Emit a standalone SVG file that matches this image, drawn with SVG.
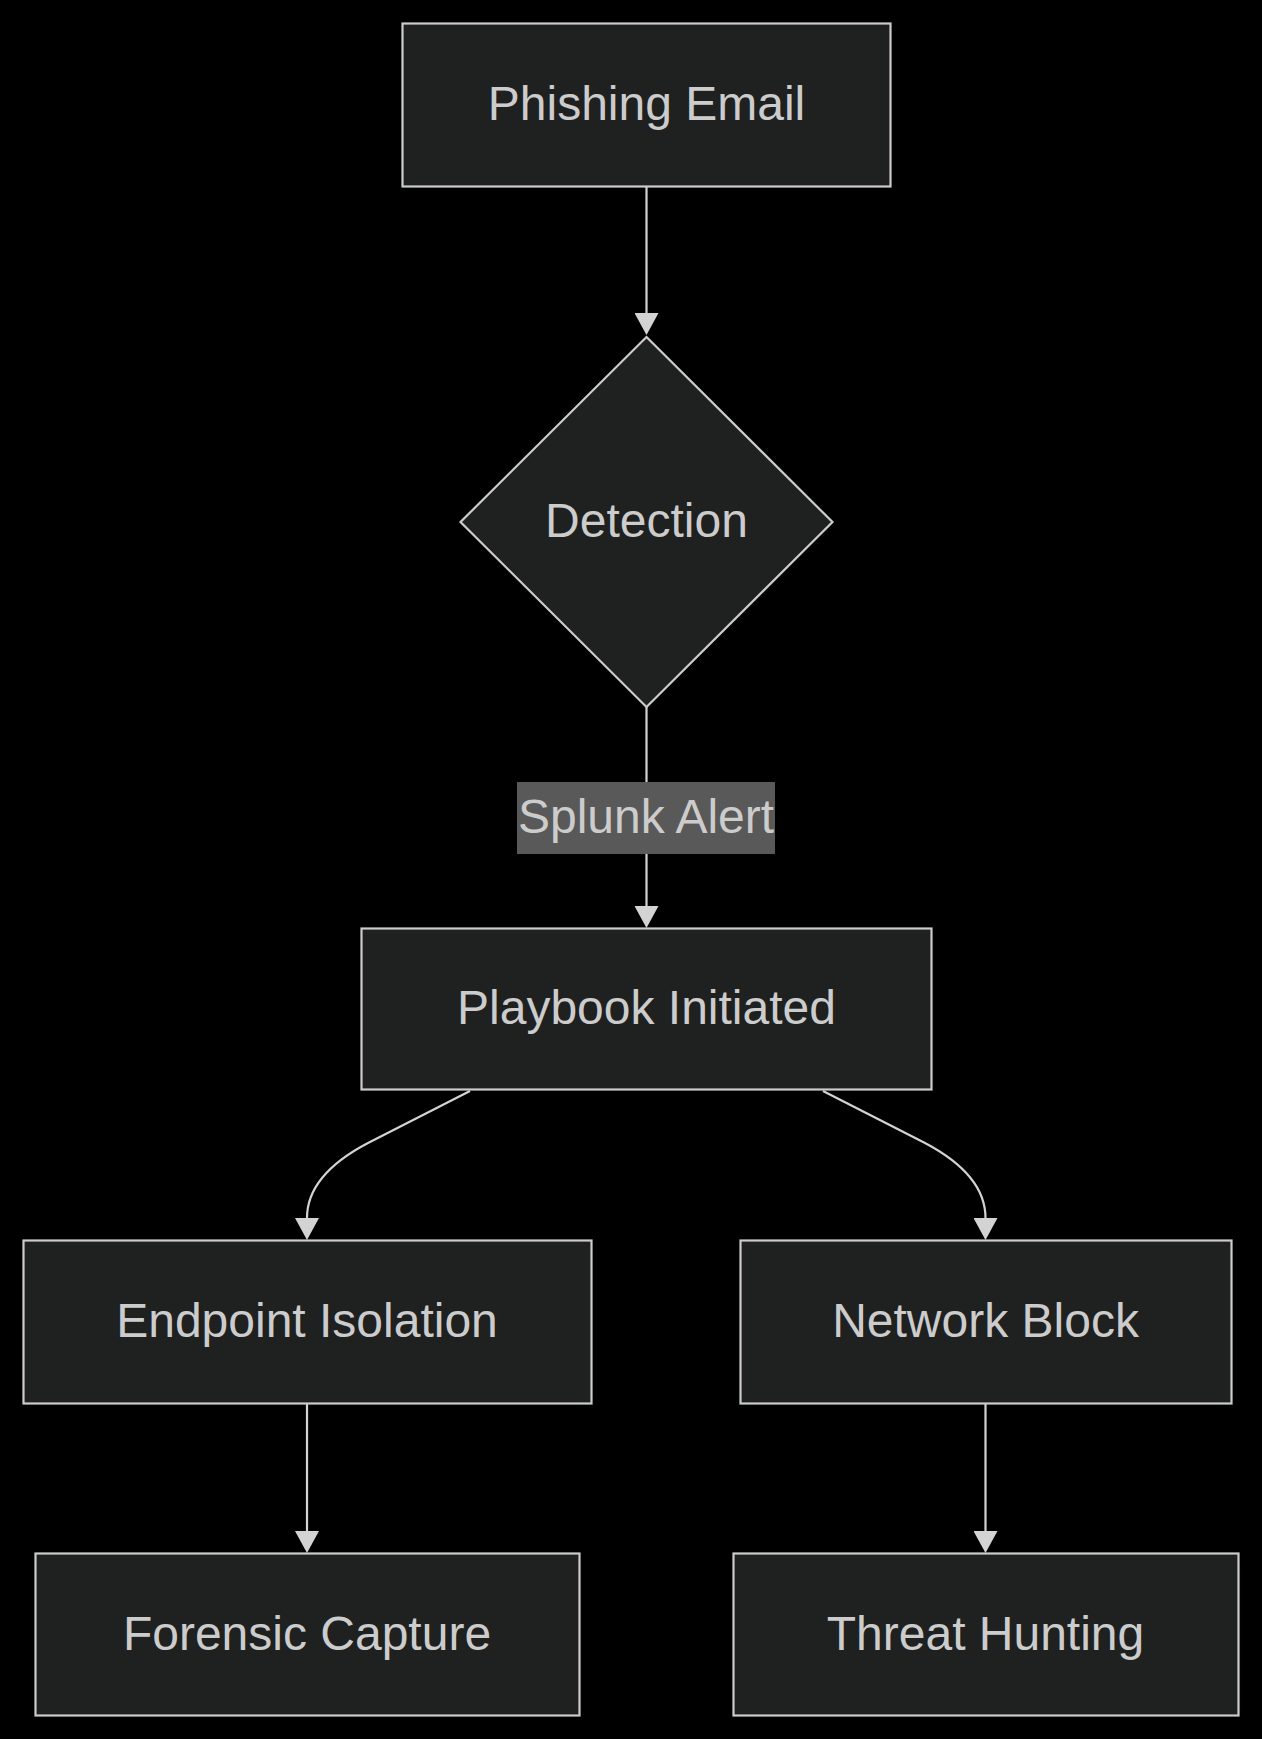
<svg xmlns="http://www.w3.org/2000/svg" width="1262" height="1739" viewBox="0 0 1262 1739">
<style>
.node rect,.node polygon{fill:#1f2020;stroke:#cccccc;stroke-width:2.2}
.lbl{font-family:"Liberation Sans",Arial,sans-serif;font-size:48px;fill:#cccccc;text-anchor:middle}
.edge{fill:none;stroke:#d3d3d3;stroke-width:2.2}
.elbg{fill:#595959}
</style>
<defs>
<marker id="arr" viewBox="0 0 10 10" markerUnits="userSpaceOnUse" markerWidth="22" markerHeight="24" refX="0" refY="5" orient="auto" preserveAspectRatio="none">
<path d="M0,0 L10,5 L0,10 z" fill="#d3d3d3"/>
</marker>
</defs>
<rect width="1262" height="1739" fill="#000000"/>
<g id="connectors">
<path class="edge" d="M646.5,187 L646.5,313" marker-end="url(#arr)"/>
<path class="edge" d="M646.5,707 L646.5,906" marker-end="url(#arr)"/>
<path class="edge" d="M470,1091 L368,1143 Q307,1175 307,1218" marker-end="url(#arr)"/>
<path class="edge" d="M823,1091 L925,1143 Q985.5,1175 985.5,1218" marker-end="url(#arr)"/>
<path class="edge" d="M307,1404 L307,1531" marker-end="url(#arr)"/>
<path class="edge" d="M985.5,1404 L985.5,1531" marker-end="url(#arr)"/>
</g>
<g id="edge-label-splunk">
<rect class="elbg" x="517" y="782" width="258" height="72"/>
<text class="lbl" x="646" y="833">Splunk Alert</text>
</g>
<g id="node-phishing" class="node">
<rect x="402.5" y="23.5" width="488" height="163"/>
<text class="lbl" x="646.5" y="120">Phishing Email</text>
</g>
<g id="node-detection" class="node">
<polygon points="646.5,337 832.5,522 646.5,707 460.5,522"/>
<text class="lbl" x="646.5" y="537">Detection</text>
</g>
<g id="node-playbook" class="node">
<rect x="361.5" y="928.5" width="570" height="161"/>
<text class="lbl" x="646.5" y="1024">Playbook Initiated</text>
</g>
<g id="node-endpoint" class="node">
<rect x="23.5" y="1240.5" width="568" height="163"/>
<text class="lbl" x="307" y="1337">Endpoint Isolation</text>
</g>
<g id="node-network" class="node">
<rect x="740.5" y="1240.5" width="491" height="163"/>
<text class="lbl" x="985.5" y="1337">Network Block</text>
</g>
<g id="node-forensic" class="node">
<rect x="35.5" y="1553.5" width="544" height="162"/>
<text class="lbl" x="307" y="1650">Forensic Capture</text>
</g>
<g id="node-threat" class="node">
<rect x="733.5" y="1553.5" width="505" height="162"/>
<text class="lbl" x="985.5" y="1650">Threat Hunting</text>
</g>
</svg>
